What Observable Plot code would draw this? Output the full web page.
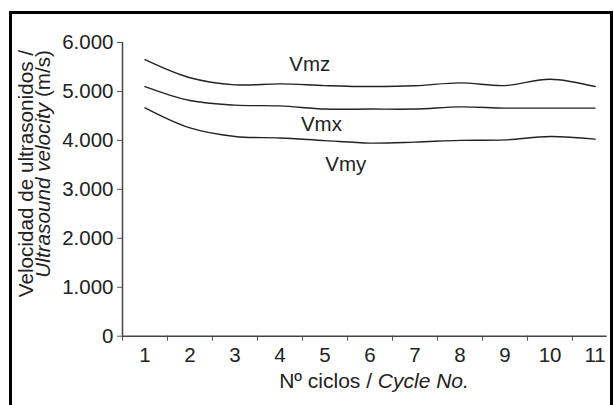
<!DOCTYPE html>
<html>
<head>
<meta charset="utf-8">
<script src="https://cdn.jsdelivr.net/npm/d3@7"></script>
<script src="https://cdn.jsdelivr.net/npm/@observablehq/plot@0.6"></script>
<style>
  html, body { margin: 0; padding: 0; background: #fff; overflow: hidden; }
  #chart { width: 614px; height: 405px; }
</style>
</head>
<body>
<div id="chart"></div>
<script>
// ---- data ----
const cycles = [1, 2, 3, 4, 5, 6, 7, 8, 9, 10, 11];
const vmz = [5650, 5280, 5135, 5155, 5120, 5100, 5115, 5175, 5120, 5250, 5100];
const vmx = [5100, 4815, 4720, 4705, 4640, 4640, 4640, 4685, 4660, 4660, 4660];
const vmy = [4665, 4255, 4080, 4050, 3995, 3945, 3965, 4000, 4010, 4080, 4025];
const seriesNames = ["Vmz", "Vmx", "Vmy"];
const yTicks = [0, 1000, 2000, 3000, 4000, 5000, 6000];
const xTickLabels = cycles;

const seriesValues = [vmz, vmx, vmy];
const rows = seriesNames.flatMap((s, i) =>
  cycles.map((c, j) => ({ series: s, cycle: c, v: seriesValues[i][j] }))
);
const boundaries = cycles.map(c => c - 0.5);
const labelRows = [
  { name: "Vmz", x: 4.66, y: 5560 },
  { name: "Vmx", x: 4.92, y: 4333 },
  { name: "Vmy", x: 5.46, y: 3516 }
];
const fmt = d => d === 0 ? "0" : d3.format(",")(d).replace(/,/g, ".");
const FONT = "'Liberation Sans', Arial, sans-serif";

const chart = Plot.plot({
  width: 614,
  height: 405,
  marginLeft: 122,
  marginRight: 7.3,
  marginTop: 42,
  marginBottom: 69.3,
  x: { domain: [0.5, 11.27] },
  y: { domain: [0, 6000] },
  style: { fontFamily: FONT, fontSize: "20px", color: "#222", background: "transparent" },
  marks: [
    Plot.axisY({ ticks: yTicks, tickFormat: fmt, tickSize: 5, tickPadding: 4, fontSize: 20.5, label: null, stroke: "#555" }),
    Plot.axisX({ ticks: boundaries, tickFormat: () => "", tickSize: 5, label: null, stroke: "#555" }),
    Plot.axisX({ ticks: xTickLabels, tickSize: 0, tickPadding: 11, fontSize: 20.5, label: null }),
    Plot.ruleX([0.5], { y1: 0, y2: 6000, stroke: "#444", strokeWidth: 1.5 }),
    Plot.ruleY([0], { x1: 0.5, x2: 11.27, stroke: "#444", strokeWidth: 1.5 }),
    Plot.line(rows, { x: "cycle", y: "v", z: "series", curve: "catmull-rom", stroke: "#222", strokeWidth: 1.4 }),
    Plot.text(labelRows, { x: "x", y: "y", text: "name", fontSize: 20.5, fill: "#222", textAnchor: "middle", lineAnchor: "middle" })
  ]
});

const svg = d3.select(chart);
svg.style("overflow", "visible");

// frame
svg.insert("rect", ":first-child")
  .attr("x", 10.5).attr("y", 12.5).attr("width", 601).attr("height", 500)
  .attr("fill", "none").attr("stroke", "#000").attr("stroke-width", 3);

// x title
const xt = svg.append("text")
  .attr("x", 374).attr("y", 388)
  .attr("text-anchor", "middle")
  .attr("font-family", FONT).attr("font-size", 21).attr("fill", "#222");
xt.append("tspan").text("Nº ciclos / ");
xt.append("tspan").attr("font-style", "italic").text("Cycle No.");

// y title (two rotated lines)
svg.append("text")
  .attr("transform", "translate(33,50) rotate(-90)")
  .attr("text-anchor", "end")
  .attr("font-family", FONT).attr("font-size", 20.7).attr("fill", "#222")
  .text("Velocidad de ultrasonidos /");
const yt2 = svg.append("text")
  .attr("transform", "translate(50,50) rotate(-90)")
  .attr("text-anchor", "end")
  .attr("font-family", FONT).attr("font-size", 20.7).attr("fill", "#222");
yt2.append("tspan").attr("font-style", "italic").text("Ultrasound velocity");
yt2.append("tspan").text(" (m/s)");

document.getElementById("chart").appendChild(chart);
</script>
</body>
</html>
